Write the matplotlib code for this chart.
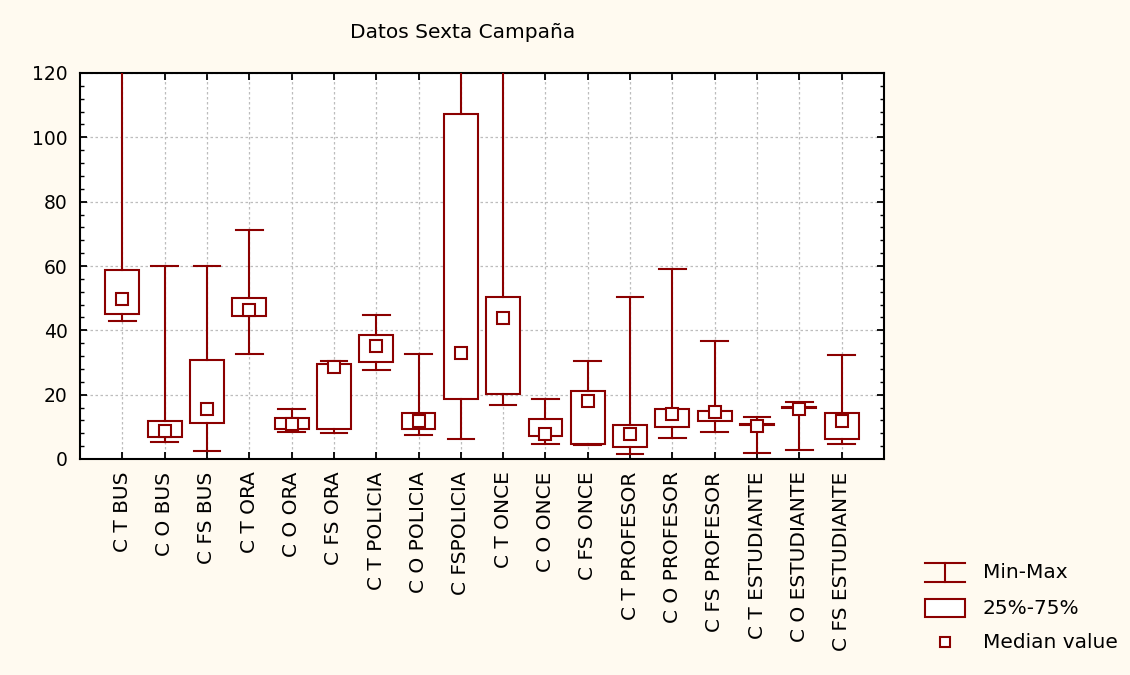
import numpy as np
import matplotlib
matplotlib.use('Agg')
from matplotlib import pyplot as plt
from matplotlib.lines import Line2D
from matplotlib.patches import Rectangle

plt.rcParams['font.family'] = ['DejaVu Sans']

#Data
labels = ['C T BUS', 'C O BUS', 'C FS BUS', 'C T ORA', 'C O ORA', 'C FS ORA',
          'C T POLICIA', 'C O POLICIA', 'C FSPOLICIA', 'C T ONCE', 'C O ONCE',
          'C FS ONCE', 'C T PROFESOR', 'C O PROFESOR', 'C FS PROFESOR',
          'C T ESTUDIANTE', 'C O ESTUDIANTE', 'C FS ESTUDIANTE']
v_min = [43.0, 5.4, 2.6, 32.7, 8.5, 8.0, 27.8, 7.5, 6.3, 16.7, 4.6, 4.4, 1.7, 6.6, 8.4, 2.0, 2.8, 4.6]
q25 = [45.1, 6.7, 11.3, 44.6, 9.3, 9.3, 30.3, 9.3, 18.5, 20.2, 7.3, 4.6, 3.6, 9.8, 11.9, 10.6, 15.8, 6.2]
median = [49.8, 8.8, 15.5, 46.3, 10.9, 28.7, 35.0, 11.9, 32.9, 43.7, 7.8, 18.0, 7.8, 14.0, 14.5, 10.3, 15.5, 11.8]
q75 = [58.9, 11.8, 30.7, 50.2, 12.9, 29.4, 38.4, 14.4, 107.4, 50.3, 12.3, 21.0, 10.6, 15.5, 14.8, 10.8, 16.1, 14.4]
v_max = [130.0, 60.1, 59.9, 71.3, 15.5, 30.4, 44.9, 32.6, 130.0, 130.0, 18.7, 30.4, 50.4, 59.2, 36.8, 13.1, 17.8, 32.2]

red = '#8b0000'
bg = '#fffaf0'
fs = 14.5 #labels, title, legend
fs_y = 13.5 #y tick labels

fig = plt.figure(figsize=(11.3, 6.75), dpi=100, facecolor=bg)
ax = fig.add_axes([80/1130, 1-459/675, 804/1130, 386/675])
ax.set_facecolor('white')

stats = []
for i in range(len(labels)):
    stats.append({'med': median[i], 'q1': q25[i], 'q3': q75[i],
                  'whislo': v_min[i], 'whishi': v_max[i], 'fliers': []})

pos = np.arange(1, len(labels)+1)
lw = 1.5
ax.bxp(stats, positions=pos, widths=0.8, capwidths=0.63, patch_artist=True,
       showfliers=False,
       boxprops=dict(facecolor='white', edgecolor=red, linewidth=lw),
       whiskerprops=dict(color=red, linewidth=lw),
       capprops=dict(color=red, linewidth=lw),
       medianprops=dict(linewidth=0), zorder=3)
ax.plot(pos, median, 's', ms=8, mfc='white', mec=red, mew=lw, ls='none', zorder=4)

ax.set_xlim(0, 19)
ax.set_ylim(0, 120)
ax.set_xticks(pos)
ax.set_xticklabels(labels, rotation=90, fontsize=fs)
ax.set_yticks(np.arange(0, 121, 20))
ax.set_yticks(np.arange(0, 121, 4), minor=True)
ax.tick_params(axis='both', which='both', direction='in', top=True, right=True)
ax.tick_params(axis='y', which='major', length=5, width=1.3, pad=9, labelsize=fs_y)
ax.tick_params(axis='y', which='minor', length=3, width=1.0)
ax.tick_params(axis='x', which='major', length=5, width=1.3, pad=9)
ax.tick_params(axis='x', which='minor', bottom=False, top=False)
ax.grid(True, which='major', color='#bdbdbd', linestyle=(0, (2, 2)), linewidth=0.9, zorder=0)
ax.set_axisbelow(True)
for s in ax.spines.values():
    s.set_linewidth(1.5)

fig.text(463/1130, 1-33/675, 'Datos Sexta Campaña', ha='center', va='center', fontsize=fs)

#Legend drawn by hand in figure pixels
def fx(x):
    return x/1130
def fy(y):
    return 1-y/675

fig.add_artist(Line2D([fx(925), fx(965)], [fy(563), fy(563)], color=red, lw=lw))
fig.add_artist(Line2D([fx(925), fx(965)], [fy(582), fy(582)], color=red, lw=lw))
fig.add_artist(Line2D([fx(945), fx(945)], [fy(563), fy(582)], color=red, lw=lw))
fig.add_artist(Rectangle((fx(925), fy(617)), fx(40), 18/675, facecolor='white', edgecolor=red, lw=lw))
fig.add_artist(Line2D([fx(945)], [fy(642)], marker='s', ms=7, mfc='white', mec=red, mew=lw))
fig.text(fx(983), fy(573), 'Min-Max', va='center', fontsize=fs)
fig.text(fx(983), fy(608), '25%-75%', va='center', fontsize=fs)
fig.text(fx(983), fy(642), 'Median value', va='center', fontsize=fs)

fig.savefig('out.png', dpi=100, facecolor=bg)
